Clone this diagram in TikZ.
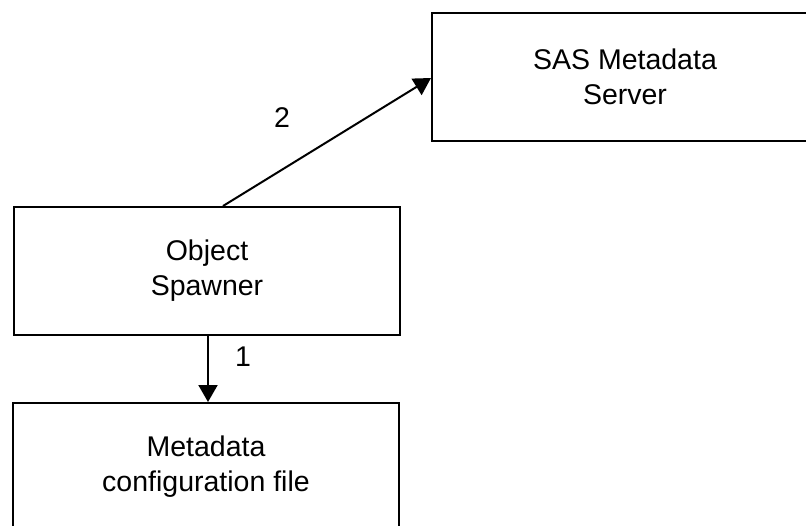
\documentclass[tikz,border=0pt]{standalone}
\usepackage{fontspec}
\setmainfont{Liberation Sans}
\usetikzlibrary{arrows.meta}
\begin{document}
\begin{tikzpicture}[x=1pt,y=-1pt,
  boxnode/.style={draw=black,line width=2pt,minimum width=386pt,minimum height=128pt,align=center,inner sep=0pt,font=\fontsize{28.5}{35}\selectfont},
  lbl/.style={font=\fontsize{28.5}{35}\selectfont,inner sep=0pt},
  arr/.style={line width=2pt,-{Triangle[length=17pt,width=19pt]}}]
\useasboundingbox (0,0) rectangle (806,525);
\clip (0,0) rectangle (806,525);
\node[boxnode] (sas) at (625,77) {SAS Metadata\\Server};
\node[boxnode] (os) at (207,271) {Object\\Spawner};
\node[boxnode] (cfg) at (206,467) {Metadata\\configuration file};
\coordinate (a1) at ([xshift=1pt]os.south);
\draw[arr] (a1) -- (a1 |- cfg.north);
\draw[arr] ([xshift=16pt]os.north) -- ([yshift=-1pt]sas.west);
\node[lbl] (l1) at (243,357) {1};
\node[lbl] (l2) at (282,118) {2};
\end{tikzpicture}
\end{document}
